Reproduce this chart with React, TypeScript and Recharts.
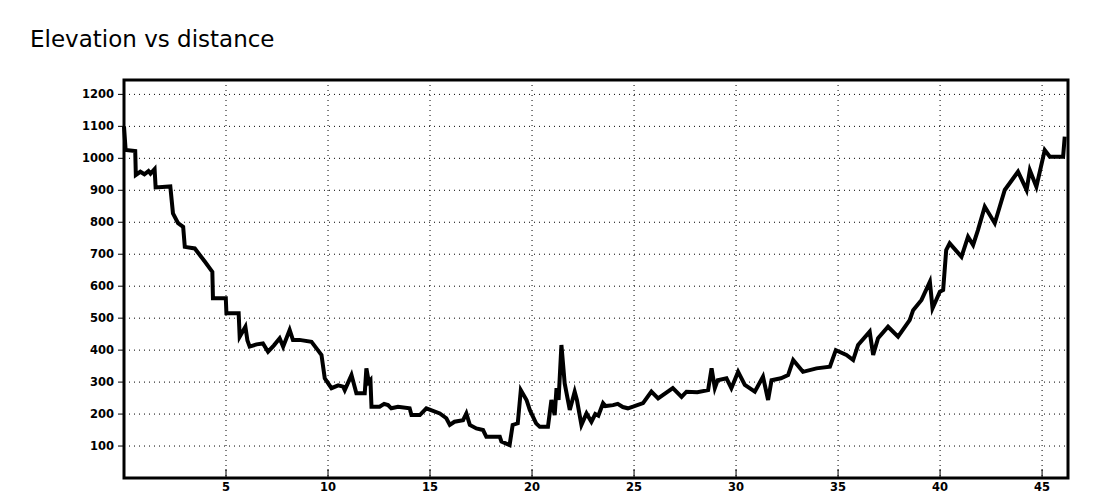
import { LineChart, Line, XAxis, YAxis, CartesianGrid, ReferenceArea } from 'recharts'

// distance in km, elevation in m
const distances = [
  0, 0.08, 0.55, 0.58, 0.8, 1.0, 1.2, 1.3, 1.5, 1.55, 2.27, 2.4, 2.65, 2.9, 2.98, 3.47, 3.96, 4.33, 4.36, 4.99,
  5.02, 5.62, 5.67, 5.95, 6.05, 6.16, 6.5, 6.81, 7.06, 7.35, 7.63, 7.8, 8.12, 8.28, 8.6, 9.19, 9.5, 9.68, 9.84, 10.17,
  10.5, 10.74, 10.82, 11.15, 11.39, 11.8, 11.88, 12.0, 12.08, 12.13, 12.53, 12.75, 12.94, 13.1, 13.43, 14.0, 14.09, 14.5, 14.82, 15.48,
  15.8, 15.97, 16.2, 16.62, 16.78, 16.95, 17.27, 17.6, 17.76, 18.42, 18.5, 18.9, 19.05, 19.3, 19.45, 19.73, 19.89, 20.2, 20.38, 20.78,
  20.95, 21.11, 21.2, 21.3, 21.44, 21.6, 21.85, 22.09, 22.2, 22.42, 22.67, 22.91, 23.1, 23.25, 23.48, 23.6, 23.97, 24.2, 24.45, 24.7,
  24.95, 25.44, 25.85, 26.18, 26.9, 27.33, 27.57, 28.1, 28.63, 28.8, 28.96, 29.1, 29.53, 29.77, 30.1, 30.43, 30.92, 31.32, 31.57, 31.74,
  32.2, 32.55, 32.8, 33.28, 33.94, 34.6, 34.89, 35.41, 35.74, 35.98, 36.55, 36.72, 36.96, 37.45, 37.94, 38.51, 38.68, 39.09, 39.5, 39.63,
  39.99, 40.15, 40.3, 40.47, 41.05, 41.37, 41.62, 41.86, 42.19, 42.68, 43.17, 43.82, 44.24, 44.4, 44.72, 45.13, 45.38, 46.03, 46.11,
]

const elevations = [
  1100, 1026, 1023, 948, 958, 950, 960, 952, 966, 909, 912, 828, 797, 786, 723, 718, 677, 645, 562, 562,
  515, 515, 442, 473, 430, 411, 418, 421, 395, 415, 437, 411, 463, 432, 432, 426, 400, 385, 312, 281,
  290, 286, 275, 322, 265, 265, 343, 300, 306, 223, 223, 232, 228, 218, 223, 218, 197, 197, 218, 202,
  187, 166, 176, 181, 202, 166, 155, 150, 129, 129, 114, 103, 166, 171, 275, 244, 213, 171, 160, 160,
  244, 197, 281, 244, 416, 296, 213, 270, 244, 166, 202, 176, 200, 195, 234, 225, 228, 232, 222, 218,
  223, 234, 270, 249, 281, 254, 270, 268, 275, 343, 281, 306, 312, 281, 332, 291, 270, 317, 244, 306,
  312, 322, 369, 332, 343, 348, 400, 385, 369, 416, 458, 385, 437, 473, 442, 494, 525, 557, 614, 531,
  583, 588, 713, 734, 692, 755, 729, 776, 849, 797, 901, 958, 901, 963, 911, 1026, 1005, 1005, 1068,
]

const xTicks = [5, 10, 15, 20, 25, 30, 35, 40, 45]
const yTicks = [100, 200, 300, 400, 500, 600, 700, 800, 900, 1000, 1100, 1200]

const X_MAX = 46.27
const Y_MAX = 1245

const data = distances.map((d, i) => ({ distance: d, elevation: elevations[i] }))

const tickStyle = {
  fontFamily: 'DejaVu Sans',
  fontWeight: 'bold' as const,
  fontSize: 11.5,
  fill: '#000',
}

export default function App() {
  return (
    <div style={{ position: 'absolute', left: 0, top: 0, width: 1100, height: 500, background: '#fff' }}>
      <div
        style={{
          position: 'absolute',
          left: 30,
          top: 28,
          fontFamily: 'DejaVu Sans',
          fontSize: 23,
          lineHeight: '23px',
          color: '#000',
          whiteSpace: 'nowrap',
        }}
      >
        Elevation vs distance
      </div>
      <LineChart
        width={1100}
        height={500}
        data={data}
        margin={{ top: 80, right: 32, left: 0, bottom: 0 }}
      >
        <CartesianGrid stroke="#000" strokeDasharray="1 4" />
        <XAxis
          dataKey="distance"
          type="number"
          domain={[0, X_MAX]}
          ticks={xTicks}
          interval={0}
          height={22}
          axisLine={false}
          tickLine={{ stroke: '#000', strokeWidth: 1 }}
          tickSize={-9}
          tickMargin={14}
          tick={tickStyle}
        />
        <YAxis
          type="number"
          domain={[0, Y_MAX]}
          ticks={yTicks}
          interval={0}
          width={124}
          axisLine={false}
          tickLine={{ stroke: '#000', strokeWidth: 1 }}
          tickSize={6}
          tickMargin={4}
          tick={tickStyle}
        />
        <Line
          type="linear"
          dataKey="elevation"
          stroke="#000"
          strokeWidth={4}
          dot={false}
          isAnimationActive={false}
        />
        <ReferenceArea
          x1={0}
          x2={X_MAX}
          y1={0}
          y2={Y_MAX}
          fill="none"
          stroke="#000"
          strokeWidth={3}
          ifOverflow="visible"
        />
      </LineChart>
    </div>
  )
}
